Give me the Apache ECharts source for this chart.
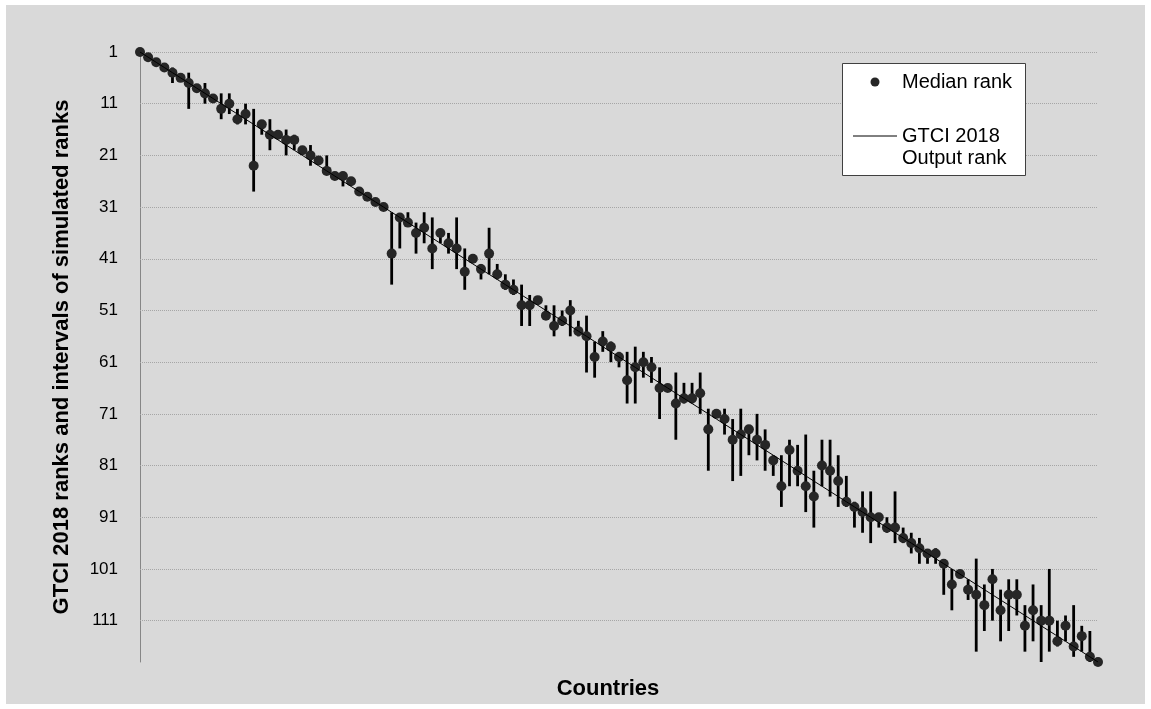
<!DOCTYPE html>
<html>
<head>
<meta charset="utf-8">
<script src="https://cdn.jsdelivr.net/npm/echarts@6/dist/echarts.min.js"></script>
<style>
html,body{margin:0;padding:0;background:#ffffff;}
#chart{width:1151px;height:709px;}
</style>
</head>
<body>
<div id="chart"></div>
<script>
// Country position (1..119) on the x axis
var countries = [1,2,3,4,5,6,7,8,9,10,11,12,13,14,15,16,17,18,19,20,21,22,23,24,25,26,27,28,29,30,31,32,33,34,35,36,37,38,39,40,41,42,43,44,45,46,47,48,49,50,51,52,53,54,55,56,57,58,59,60,61,62,63,64,65,66,67,68,69,70,71,72,73,74,75,76,77,78,79,80,81,82,83,84,85,86,87,88,89,90,91,92,93,94,95,96,97,98,99,100,101,102,103,104,105,106,107,108,109,110,111,112,113,114,115,116,117,118,119];
// GTCI 2018 output rank
var outputRank = [1,2,3,4,5,6,7,8,9,10,11,12,13,14,15,16,17,18,19,20,21,22,23,24,25,26,27,28,29,30,31,32,33,34,35,36,37,38,39,40,41,42,43,44,45,46,47,48,49,50,51,52,53,54,55,56,57,58,59,60,61,62,63,64,65,66,67,68,69,70,71,72,73,74,75,76,77,78,79,80,81,82,83,84,85,86,87,88,89,90,91,92,93,94,95,96,97,98,99,100,101,102,103,104,105,106,107,108,109,110,111,112,113,114,115,116,117,118,119];
// Median rank of simulations
var medianRank = [1,2,3,4,5,6,7,8,9,10,12,11,14,13,23,15,17,17,18,18,20,21,22,24,25,25,26,28,29,30,31,40,33,34,36,35,39,36,38,39,43.5,41,43,40,44,46,47,50,50,49,52,54,53,51,55,56,60,57,58,60,64.5,62,61,62,66,66,69,68,68,67,74,71,72,76,75,74,76,77,80,85,78,82,85,87,81,82,84,88,89,90,91,91,93,93,95,96,97,98,98,100,104,102,105,106,108,103,109,106,106,112,109,111,111,115,112,116,114,118,119];
// Lower bound of interval of simulated ranks
var lowRank = [1,2,3,4,4,6,5,8,7,10,9,9,12,11,12,15,14,17,16,17,20,19,22,21,25,25,26,28,29,30,31,32,33,32,34,32,33,36,36,33,39,41,42,35,42,44,45,46,48,49,50,50,51,49,53,52,57,55,57,59,59,58,59,60,62,66,63,65,65,63,70,71,70,72,70,74,71,74,79,79,76,77,75,82,76,76,79,83,88,86,86,91,91,86,93,94,95,98,97,100,101,102,103,99,104,101,105,103,103,108,104,108,101,111,110,108,112,113,119];
// Upper bound of interval of simulated ranks
var highRank = [1,2,3,4,7,6,12,8,11,10,14,13,15,15,28,17,20,17,21,20,20,23,22,24,25,27,26,28,29,30,31,46,39,34,40,38,43,38,40,43,47,41,45,44,45,47,48,54,54,49,52,56,54,56,56,63,64,59,61,62,69,69,64,65,72,66,76,69,69,71,82,71,75,84,83,79,80,82,83,89,85,85,90,93,85,87,89,89,93,94,96,93,94,96,96,98,100,100,100,106,109,102,107,117,113,111,115,113,110,117,115,119,117,116,115,118,117,119,119];
// Y axis tick labels
var yTicks = [1,11,21,31,41,51,61,71,81,91,101,111];

var chart = echarts.init(document.getElementById('chart'), null, {renderer:'canvas'});

var scatterData = countries.map(function(c,i){ return [c, medianRank[i]]; });
var lineData = countries.map(function(c,i){ return [c, outputRank[i]]; });
var barData = countries.map(function(c,i){ return [c, lowRank[i], highRank[i]]; });

var option = {
  backgroundColor: '#ffffff',
  animation: false,
  grid: {left: 140, right: 53, top: 52, bottom: 47, containLabel: false},
  xAxis: {
    type: 'value', min: 1, max: 119,
    show: false
  },
  yAxis: {
    type: 'value', inverse: true, min: 1, max: 119, interval: 10,
    axisLine: {show: true, lineStyle: {color: '#868686', width: 1}},
    axisTick: {show: false},
    splitLine: {show: false},
    axisLabel: {
      show: true, margin: 22, color: '#000000', fontSize: 17,
      fontFamily: 'Liberation Sans, Arial, sans-serif',
      showMaxLabel: false,
      formatter: function(v){ return yTicks.indexOf(v) >= 0 ? String(v) : ''; }
    }
  },
  graphic: [
    {type: 'rect', z: -100, silent: true, shape: {x: 6, y: 5, width: 1139, height: 699}, style: {fill: '#d9d9d9'}},
    {type: 'text', z: 100, rotation: Math.PI/2, x: 62, y: 357,
      style: {text: 'GTCI 2018 ranks and intervals of simulated ranks', fill: '#000', font: 'bold 22px "Liberation Sans", Arial, sans-serif', textAlign: 'center', textVerticalAlign: 'middle'}},
    {type: 'text', z: 100, x: 608, y: 689,
      style: {text: 'Countries', fill: '#000', font: 'bold 22px "Liberation Sans", Arial, sans-serif', textAlign: 'center', textVerticalAlign: 'middle'}},
    {type: 'rect', z: 100, shape: {x: 842.5, y: 63.5, width: 183, height: 112}, style: {fill: '#ffffff', stroke: '#404040', lineWidth: 1}},
    {type: 'circle', z: 101, shape: {cx: 875, cy: 82, r: 4.5}, style: {fill: '#262626'}},
    {type: 'text', z: 101, x: 902, y: 82,
      style: {text: 'Median rank', fill: '#000', font: '20px "Liberation Sans", Arial, sans-serif', textAlign: 'left', textVerticalAlign: 'middle'}},
    {type: 'line', z: 101, shape: {x1: 853, y1: 136, x2: 897, y2: 136}, style: {stroke: '#000', lineWidth: 1}},
    {type: 'text', z: 101, x: 902, y: 136,
      style: {text: 'GTCI 2018', fill: '#000', font: '20px "Liberation Sans", Arial, sans-serif', textAlign: 'left', textVerticalAlign: 'middle'}},
    {type: 'text', z: 101, x: 902, y: 158,
      style: {text: 'Output rank', fill: '#000', font: '20px "Liberation Sans", Arial, sans-serif', textAlign: 'left', textVerticalAlign: 'middle'}}
  ],
  series: [
    {
      name: 'Interval', type: 'custom', z: 3,
      data: barData,
      encode: {x: 0, y: [1, 2]},
      renderItem: function(params, api){
        var p1 = api.coord([api.value(0), api.value(1)]);
        var p2 = api.coord([api.value(0), api.value(2)]);
        return {type: 'line', shape: {x1: p1[0], y1: p1[1], x2: p2[0], y2: p2[1]}, style: {stroke: '#000000', lineWidth: 2.8}};
      }
    },
    {
      name: 'Median rank', type: 'scatter', z: 4,
      data: scatterData, symbol: 'circle', symbolSize: 10,
      itemStyle: {color: '#262626', opacity: 1}
    },
    {
      name: 'GTCI 2018 Output rank', type: 'line', z: 5,
      data: lineData, showSymbol: false, symbol: 'none',
      lineStyle: {color: '#000000', width: 1},
      markLine: {
        silent: true, symbol: ['none','none'], label: {show: false},
        lineStyle: {color: '#a6a6a6', type: 'dotted', width: 1},
        z: 1,
        data: yTicks.map(function(t){ return {yAxis: t}; })
      }
    }
  ]
};
chart.setOption(option);
</script>
</body>
</html>
